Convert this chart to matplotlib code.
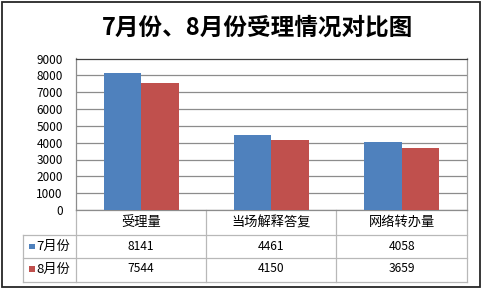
import numpy as np
import matplotlib.pyplot as plt
from matplotlib.lines import Line2D
from matplotlib.patches import Rectangle

plt.rcParams['font.family'] = ['Noto Sans CJK SC', 'DejaVu Sans']

# chart data
title = '7月份、8月份受理情况对比图'
categories = ['受理量', '当场解释答复', '网络转办量']
series_names = ['7月份', '8月份']
july = [8141, 4461, 4058]
august = [7544, 4150, 3659]
series_values = [july, august]
colors = ['#4F81BD', '#C0504D']
yticks = [0, 1000, 2000, 3000, 4000, 5000, 6000, 7000, 8000, 9000]

W, H = 482, 289
fig = plt.figure(figsize=(W / 100, H / 100), dpi=100)


def fx(px):
    return px / W


def fy(py):
    return 1 - py / H


# plot area in pixels
left, right, top, bottom = 76, 466.7, 58.5, 210
ax = fig.add_axes([fx(left), fy(bottom), fx(right - left), (bottom - top) / H])


def yax(py):
    return (bottom - py) / (bottom - top)


x = np.arange(len(categories))
w = 0.288
ax.bar(x - w / 2, july, w, color=colors[0], zorder=3)
ax.bar(x + w / 2, august, w, color=colors[1], zorder=3)
ax.set_xlim(-0.5, 2.5)
ax.set_ylim(0, 9000)
ax.set_yticks(yticks)
ax.set_xticks([])
ax.yaxis.grid(True, color='#8c8c8c', lw=0.9, zorder=0)
ax.tick_params(axis='y', length=0, pad=9.5, labelsize=8.5)
ax.spines['top'].set_color('#404040')
ax.spines['left'].set_color('#8c8c8c')
ax.spines['right'].set_color('#a0a0a0')
ax.spines['bottom'].set_color('#8c8c8c')
for s in ax.spines.values():
    s.set_linewidth(0.9)

# data table under the axis
tc = '#b8b8b8'
xt = ax.get_xaxis_transform()
for xb in [-0.5, 0.5, 1.5, 2.5]:
    ax.add_line(Line2D([xb, xb], [yax(bottom), yax(282.3)], transform=xt,
                       color=tc, lw=0.9, clip_on=False))
for py in [235, 257.7, 282.3]:
    fig.add_artist(Line2D([fx(23.3), fx(right)], [fy(py), fy(py)], color=tc, lw=0.9))
fig.add_artist(Line2D([fx(23.3), fx(23.3)], [fy(235), fy(282.3)], color=tc, lw=0.9))

for i, c in enumerate(categories):
    ax.text(i, yax(222.7), c, transform=xt, ha='center', va='center',
            fontsize=9.5, clip_on=False)

row_y = [246.5, 269]
for name, vals, col, py in zip(series_names, series_values, colors, row_y):
    fig.add_artist(Rectangle((fx(29.3), fy(py + 2.8)), fx(5.6), 5.6 / H,
                             facecolor=col, edgecolor='none'))
    fig.text(fx(36), fy(py), name, ha='left', va='center', fontsize=9.5)
    for i, v in enumerate(vals):
        ax.text(i, yax(py), str(v), transform=xt, ha='center', va='center',
                fontsize=8.7, clip_on=False)

fig.text(fx(257.5), fy(28), title, ha='center', va='center',
         fontsize=17, fontweight='bold')

# outer chart border
fig.add_artist(Rectangle((fx(2), fy(287)), fx(478), 285 / H,
                         facecolor='none', edgecolor='#262626', lw=1.3))

fig.savefig('out.png', dpi=100)
